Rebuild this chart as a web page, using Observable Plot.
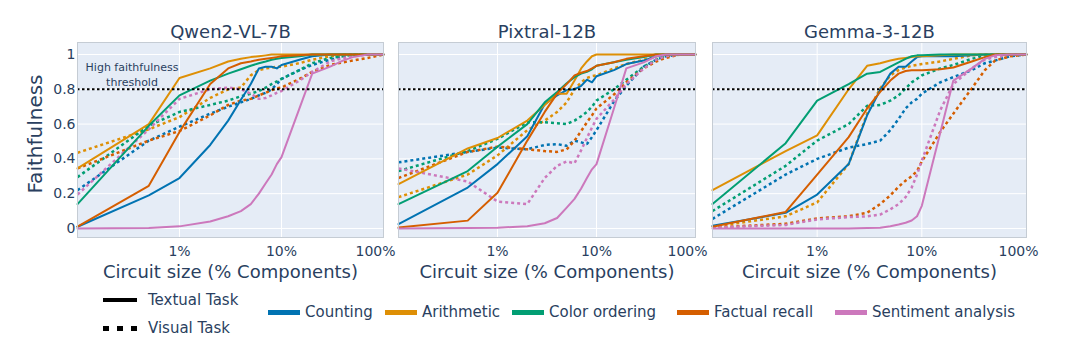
<!DOCTYPE html>
<html>
<head>
<meta charset="utf-8">
<script src="https://cdn.jsdelivr.net/npm/d3@7"></script>
<script src="https://cdn.jsdelivr.net/npm/@observablehq/plot@0.6"></script>
<style>
  html, body { margin: 0; padding: 0; background: #fff; }
  #chart { position: relative; width: 1066px; height: 356px; overflow: hidden; font-family: "DejaVu Sans", sans-serif; color: #2a3f5f; }
  #chart svg.panel { position: absolute; left: 0; top: 0; }
  .lg { position: absolute; display: flex; align-items: center; transform: translateY(-50%); font-size: 15px; white-space: nowrap; color: #2a3f5f; }
  .lg .sw { display: inline-block; margin-right: 5px; }
</style>
</head>
<body>
<div id="chart"></div>
<script>
// ---------------- data ----------------
const sizes = [0.1, 0.5, 1, 2, 3, 4, 5, 6, 7, 8, 9, 10, 15, 20, 30, 40, 50, 70, 100]; // circuit size, % components
const models = ["Qwen2-VL-7B", "Pixtral-12B", "Gemma-3-12B"];
const tasks = ["Counting", "Arithmetic", "Color ordering", "Factual recall", "Sentiment analysis"];
const modalities = ["Textual Task", "Visual Task"];
const taskColors = ["#0173b2", "#de8f05", "#029e73", "#d55e00", "#cc78bc"];
const xTicks = [1, 10, 100];
const yTicks = [0, 0.2, 0.4, 0.6, 0.8, 1];
const threshold = 0.8;
const thresholdLabel = "High faithfulness\nthreshold";
const xTitle = "Circuit size (% Components)";
const yTitle = "Faithfulness";

// rows follow the order of `tasks`; columns follow `sizes`
const qwenText = [
  [0.01, 0.19, 0.29, 0.48, 0.62, 0.74, 0.83, 0.92, 0.93, 0.93, 0.92, 0.94, 0.97, 0.99, 1, 1, 1, 1, 1],
  [0.345, 0.6, 0.865, 0.92, 0.96, 0.975, 0.985, 0.99, 0.995, 1, 1, 1, 1, 1, 1, 1, 1, 1, 1],
  [0.14, 0.59, 0.765, 0.85, 0.89, 0.915, 0.935, 0.95, 0.96, 0.97, 0.975, 0.98, 0.99, 1, 1, 1, 1, 1, 1],
  [0.01, 0.245, 0.555, 0.83, 0.92, 0.95, 0.96, 0.97, 0.975, 0.98, 0.985, 0.99, 0.995, 1, 1, 1, 1, 1, 1],
  [0, 0.003, 0.012, 0.04, 0.07, 0.1, 0.14, 0.2, 0.26, 0.31, 0.37, 0.41, 0.69, 0.89, 0.93, 0.965, 0.985, 1, 1]
];
const qwenVisual = [
  [0.22, 0.505, 0.585, 0.66, 0.7, 0.725, 0.745, 0.765, 0.78, 0.8, 0.83, 0.86, 0.91, 0.94, 0.97, 0.99, 1, 1, 1],
  [0.435, 0.57, 0.64, 0.75, 0.8, 0.81, 0.88, 0.91, 0.92, 0.925, 0.93, 0.93, 0.95, 0.97, 0.99, 1, 1, 1, 1],
  [0.295, 0.59, 0.67, 0.71, 0.735, 0.76, 0.775, 0.79, 0.81, 0.83, 0.845, 0.86, 0.91, 0.95, 0.98, 0.99, 1, 1, 1],
  [0.345, 0.505, 0.56, 0.65, 0.71, 0.735, 0.745, 0.765, 0.78, 0.795, 0.805, 0.81, 0.86, 0.9, 0.94, 0.955, 0.965, 0.98, 1],
  [0.195, 0.57, 0.745, 0.8, 0.81, 0.8, 0.775, 0.745, 0.75, 0.765, 0.78, 0.79, 0.85, 0.9, 0.96, 0.98, 0.99, 1, 1]
];
const pixtralText = [
  [0.025, 0.235, 0.37, 0.53, 0.715, 0.765, 0.795, 0.8, 0.82, 0.855, 0.84, 0.875, 0.91, 0.945, 0.965, 0.99, 1, 1, 1],
  [0.255, 0.46, 0.52, 0.62, 0.71, 0.775, 0.775, 0.85, 0.92, 0.96, 0.99, 1, 1, 1, 1, 1, 1, 1, 1],
  [0.14, 0.33, 0.47, 0.6, 0.725, 0.785, 0.835, 0.87, 0.89, 0.9, 0.915, 0.935, 0.955, 0.97, 0.985, 1, 1, 1, 1],
  [0.005, 0.045, 0.205, 0.505, 0.67, 0.775, 0.83, 0.88, 0.895, 0.905, 0.92, 0.935, 0.955, 0.975, 0.99, 1, 1, 1, 1],
  [0, 0.002, 0.004, 0.013, 0.03, 0.06, 0.12, 0.17, 0.23, 0.29, 0.34, 0.37, 0.69, 0.92, 0.955, 0.99, 1, 1, 1]
];
const pixtralVisual = [
  [0.38, 0.44, 0.465, 0.455, 0.48, 0.485, 0.475, 0.505, 0.495, 0.485, 0.525, 0.565, 0.73, 0.82, 0.93, 0.97, 0.99, 1, 1],
  [0.18, 0.31, 0.42, 0.565, 0.62, 0.67, 0.725, 0.8, 0.84, 0.865, 0.875, 0.88, 0.92, 0.945, 0.97, 0.99, 1, 1, 1],
  [0.33, 0.445, 0.515, 0.61, 0.61, 0.605, 0.6, 0.62, 0.645, 0.67, 0.7, 0.735, 0.8, 0.855, 0.93, 0.97, 0.99, 1, 1],
  [0.29, 0.44, 0.47, 0.455, 0.445, 0.44, 0.455, 0.505, 0.56, 0.61, 0.65, 0.69, 0.77, 0.84, 0.92, 0.96, 0.98, 1, 1],
  [0.345, 0.27, 0.155, 0.14, 0.29, 0.36, 0.385, 0.375, 0.45, 0.52, 0.58, 0.63, 0.74, 0.83, 0.92, 0.97, 0.99, 1, 1]
];
const gemmaText = [
  [0.015, 0.09, 0.195, 0.37, 0.65, 0.795, 0.89, 0.93, 0.93, 0.96, 0.985, 0.99, 0.99, 0.99, 0.995, 1, 1, 1, 1],
  [0.22, 0.445, 0.535, 0.8, 0.935, 0.95, 0.965, 0.975, 0.98, 0.985, 0.99, 0.99, 0.995, 1, 1, 1, 1, 1, 1],
  [0.14, 0.49, 0.735, 0.83, 0.89, 0.9, 0.93, 0.955, 0.975, 0.99, 0.995, 0.995, 1, 1, 1, 1, 1, 1, 1],
  [0.01, 0.095, 0.31, 0.525, 0.69, 0.785, 0.85, 0.89, 0.905, 0.91, 0.91, 0.91, 0.915, 0.925, 0.96, 0.985, 1, 1, 1],
  [0, 0, 0, 0, 0.002, 0.004, 0.013, 0.023, 0.033, 0.046, 0.07, 0.13, 0.55, 0.85, 0.92, 0.975, 0.995, 1, 1]
];
const gemmaVisual = [
  [0.055, 0.31, 0.4, 0.465, 0.485, 0.505, 0.565, 0.63, 0.69, 0.725, 0.745, 0.775, 0.84, 0.87, 0.91, 0.95, 0.965, 0.99, 1],
  [0.01, 0.07, 0.15, 0.37, 0.66, 0.805, 0.88, 0.91, 0.925, 0.935, 0.94, 0.945, 0.96, 0.975, 0.995, 1, 1, 1, 1],
  [0.1, 0.36, 0.505, 0.6, 0.705, 0.71, 0.735, 0.765, 0.805, 0.84, 0.86, 0.88, 0.92, 0.94, 0.975, 0.995, 1, 1, 1],
  [0.005, 0.027, 0.058, 0.07, 0.09, 0.14, 0.19, 0.24, 0.275, 0.3, 0.33, 0.385, 0.555, 0.66, 0.805, 0.91, 0.965, 0.99, 1],
  [0.005, 0.02, 0.052, 0.065, 0.07, 0.08, 0.11, 0.14, 0.18, 0.235, 0.31, 0.39, 0.68, 0.83, 0.92, 0.97, 0.985, 1, 1]
];

// ---------------- layout ----------------
const W = 1066, H = 290;
const FONT = "DejaVu Sans";
const INK = "#2a3f5f";
const panels = [
  {model: models[0], text: qwenText, visual: qwenVisual, left: 77, right: 383, first: true},
  {model: models[1], text: pixtralText, visual: pixtralVisual, left: 398, right: 695, first: false},
  {model: models[2], text: gemmaText, visual: gemmaVisual, left: 712, right: 1026, first: false}
];

function buildRows(textArr, visArr) {
  const rows = [];
  [[modalities[0], textArr], [modalities[1], visArr]].forEach(([mod, arr]) => {
    arr.forEach((vals, i) => vals.forEach((v, j) => rows.push({task: tasks[i], modality: mod, size: sizes[j], value: v})));
  });
  return rows;
}

const chart = document.getElementById("chart");
const pct = d => d + "%";
const yFmt = d => (d === 0 || d === 1) ? String(d) : d.toFixed(1);

for (const p of panels) {
  const rows = buildRows(p.text, p.visual);
  const marks = [
    Plot.frame({fill: "#E5ECF6"}),
    Plot.gridY(yTicks, {stroke: "#fff", strokeOpacity: 1, strokeWidth: 1}),
    Plot.gridX(xTicks, {stroke: "#fff", strokeOpacity: 1, strokeWidth: 1}),
    Plot.line(rows.filter(d => d.modality === modalities[1]), {
      x: "size", y: "value", z: "task", stroke: "task", strokeWidth: 2.5,
      strokeDasharray: "3,3", strokeLinecap: "butt", strokeLinejoin: "miter"
    }),
    Plot.line(rows.filter(d => d.modality === modalities[0]), {
      x: "size", y: "value", z: "task", stroke: "task", strokeWidth: 2
    }),
    Plot.ruleY([threshold], {stroke: "#000", strokeWidth: 2, strokeDasharray: "2.5,2.5", strokeLinecap: "butt"}),
    Plot.frame({stroke: "#c5ccd4", strokeWidth: 1}),
    Plot.axisX(xTicks.slice(0, 2), {tickSize: 0, tickPadding: 9, fontSize: 14, tickFormat: pct, label: null, fill: INK}),
    Plot.axisX(xTicks.slice(2), {tickSize: 0, tickPadding: 9, fontSize: 14, tickFormat: pct, label: null, fill: INK, dx: -8}),
    Plot.text([xTitle], {text: d => d, frameAnchor: "bottom", dy: 40, lineAnchor: "bottom", fontSize: 18, fill: INK}),
    Plot.text([p.model], {text: d => d, frameAnchor: "top", dy: -5, lineAnchor: "bottom", fontSize: 18, fill: INK})
  ];
  if (p.first) {
    marks.push(
      Plot.axisY(yTicks, {tickSize: 0, tickPadding: 2, fontSize: 14, tickFormat: yFmt, label: null, fill: INK}),
      Plot.text([yTitle], {text: d => d, frameAnchor: "left", dx: -42, dy: -6, rotate: -90, textAnchor: "middle", lineAnchor: "middle", fontSize: 20, fill: INK}),
      Plot.text([thresholdLabel], {text: d => d, frameAnchor: "top-left", dx: 54.5, dy: 43, textAnchor: "middle", lineAnchor: "bottom", lineHeight: 1.3, fontSize: 11, fill: INK})
    );
  }
  const svg = Plot.plot({
    width: W, height: H,
    marginTop: 42, marginBottom: H - 237,
    marginLeft: p.left, marginRight: W - p.right,
    style: {background: "transparent", fontFamily: FONT, color: INK, overflow: "visible"},
    x: {type: "log", domain: [0.1, 100]},
    y: {domain: [-0.052, 1.069], axis: p.first ? undefined : null},
    color: {domain: tasks, range: taskColors},
    marks
  });
  svg.classList.add("panel");
  chart.appendChild(svg);
}

// ---------------- legend ----------------
function legendItem(label, left, y, swatchStyle) {
  const div = document.createElement("div");
  div.className = "lg";
  div.style.left = left + "px";
  div.style.top = y + "px";
  const sw = document.createElement("span");
  sw.className = "sw";
  Object.assign(sw.style, swatchStyle);
  div.appendChild(sw);
  const t = document.createElement("span");
  t.textContent = label;
  div.appendChild(t);
  chart.appendChild(div);
  return {sw, t};
}
const a = legendItem(modalities[0], 103, 300, {width: "34px", height: "4px", background: "#000"});
a.sw.style.marginRight = "11px";
const b = legendItem(modalities[1], 103, 328, {width: "34px", height: "5px",
  background: "repeating-linear-gradient(90deg, #000 0 6px, transparent 6px 14px)"});
b.sw.style.marginRight = "11px";
const taskLefts = [268, 385, 512, 677, 835];
tasks.forEach((t, i) => {
  legendItem(t, taskLefts[i], 312, {width: "32px", height: "5px", background: taskColors[i]});
});
</script>
</body>
</html>
